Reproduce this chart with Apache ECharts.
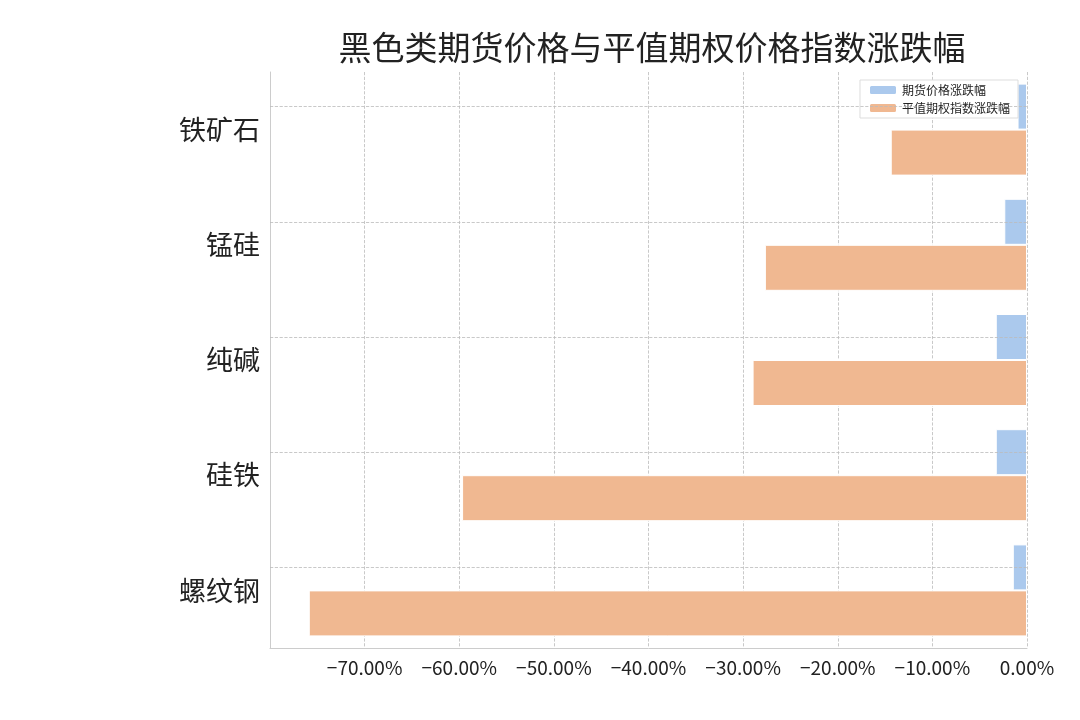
<!DOCTYPE html>
<html>
<head>
<meta charset="utf-8">
<script src="https://cdn.jsdelivr.net/npm/echarts@6/dist/echarts.min.js"></script>
<style>html,body{margin:0;padding:0;background:#fff;}#chart{width:1080px;height:720px;}</style>
</head>
<body>
<div id="chart"></div>
<script>
var categories = ['铁矿石', '锰硅', '纯碱', '硅铁', '螺纹钢'];
var futuresChange = [-1.0, -2.4, -3.3, -3.3, -1.5];
var optionIndexChange = [-14.4, -27.7, -29.0, -59.7, -75.9];
var seriesNames = ['期货价格涨跌幅', '平值期权指数涨跌幅'];

var font = 'Noto Sans CJK SC';
var chart = echarts.init(document.getElementById('chart'));
var lines = categories.map(function (c) { return { yAxis: c }; });
chart.setOption({
    animation: false,
    textStyle: { fontFamily: font },
    title: {
        text: '黑色类期货价格与平值期权价格指数涨跌幅',
        left: 647, top: 26, textAlign: 'center',
        textStyle: { fontSize: 33, fontWeight: 'normal', color: '#222', fontFamily: font }
    },
    legend: {
        data: seriesNames, orient: 'vertical', right: 62, top: 80,
        itemWidth: 28, itemHeight: 10, itemGap: 6,
        backgroundColor: '#fff', borderColor: '#ddd', borderWidth: 1, padding: [4, 8],
        textStyle: { fontSize: 12, color: '#222' }
    },
    grid: { left: 270, right: 53, top: 72, bottom: 72 },
    xAxis: {
        type: 'value', min: -80, max: 0, interval: 10,
        axisLine: { show: true, lineStyle: { color: '#ccc' } },
        axisTick: { show: false },
        axisLabel: {
            fontSize: 19, color: '#222', margin: 10,
            formatter: function (v) { return v === -80 ? '' : (v < 0 ? '−' : '') + Math.abs(v).toFixed(2) + '%'; }
        },
        splitLine: { show: true, lineStyle: { color: '#bbb', type: 'dashed', width: 0.8 } }
    },
    yAxis: {
        type: 'category', data: categories, inverse: true,
        axisLine: { show: true, onZero: false, lineStyle: { color: '#ccc' } },
        axisTick: { show: false },
        axisLabel: { fontSize: 27, color: '#222', margin: 10 },
        splitLine: { show: false }
    },
    series: [
        {
            name: seriesNames[0], type: 'bar', data: futuresChange, barWidth: 46, barGap: '0%',
            itemStyle: { color: '#abc9ed', borderColor: '#fff', borderWidth: 1 },
            markLine: {
                silent: true, symbol: 'none', label: { show: false },
                lineStyle: { color: '#bbb', type: 'dashed', width: 0.8 }, data: lines
            }
        },
        {
            name: seriesNames[1], type: 'bar', data: optionIndexChange, barWidth: 46,
            itemStyle: { color: '#f0b891', borderColor: '#fff', borderWidth: 1 }
        }
    ]
});
</script>
</body>
</html>
